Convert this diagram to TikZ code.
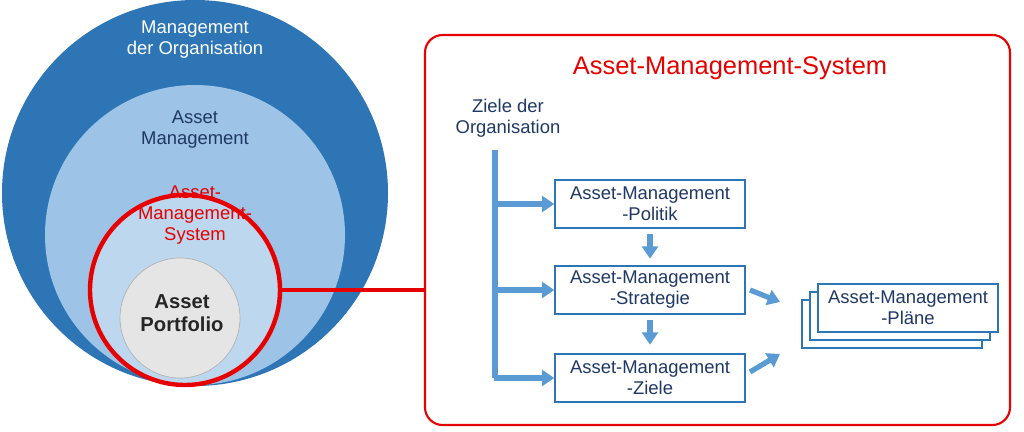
\documentclass[tikz,border=0pt]{standalone}
\usepackage{fontspec}
\setmainfont{Liberation Sans}
\usetikzlibrary{arrows.meta}
\usetikzlibrary{positioning}

\begin{document}
\begin{tikzpicture}[x=0.02cm,y=-0.02cm,font=\fontsize{10.5pt}{12pt}\selectfont,
	flow/.style={draw=arrowblue,line width=3pt,-{Triangle[length=7pt,width=9pt]}},
	main box/.style={draw=boxblue,fill=white,line width=0.8pt,minimum width=190*0.02cm,
		minimum height=48*0.02cm,align=center,text=navy,inner sep=1pt}]
	
	\definecolor{darkblue}{RGB}{46,117,182}
	\definecolor{midblue}{RGB}{157,195,230}
	\definecolor{paleblue}{RGB}{189,215,238}
	\definecolor{navy}{RGB}{31,56,100}
	\definecolor{arrowblue}{RGB}{91,155,213}
	\definecolor{boxblue}{RGB}{46,117,182}
	\definecolor{asmred}{RGB}{230,0,0}
	
	\useasboundingbox (0,0) rectangle (1024,432);
	
	% circles
	\node[circle,fill=darkblue,minimum size=386*0.02cm] (org) at (195,193) {};
	\node[circle,fill=midblue,minimum size=300*0.02cm] (am) at (195,235) {};
	\node[circle,fill=paleblue,draw=asmred,line width=2.5pt,minimum size=190*0.02cm] (ams) at (185,290) {};
	\node[circle,fill=gray!20,draw=gray!60,minimum size=120*0.02cm] (port) at (180,318) {};
	
	\node[text=white,align=center] (orgtext) at (195,40) {Management\\der Organisation};
	\node[text=navy,align=center] (amtext) at (195,130) {Asset\\Management};
	\node[text=asmred,align=center] (amstext) at (195,215) {Asset-\\Management-\\System};
	\node[text=black!85,align=center,font=\fontsize{11.5pt}{13pt}\selectfont\bfseries] (porttext) at (182,313) {Asset\\Portfolio};
	
	% system box
	\node[draw=asmred,line width=1.2pt,rounded corners=10pt,minimum width=585*0.02cm,
		minimum height=390*0.02cm] (sys) at (717.5,230) {};
	\draw[asmred,line width=2pt] (ams.east) -- (sys.west |- ams.east);
	\node[text=asmred,font=\fontsize{14.5pt}{16pt}\selectfont] (title) at (730,68) {Asset-Management-System};
	
	\node[text=navy,align=center] (ziele) at (508,118) {Ziele der\\Organisation};
	\node[main box] (pol) at (650,204) {Asset-Management\\-Politik};
	\node[main box] (str) at (650,290) {Asset-Management\\-Strategie};
	\node[main box] (zie) at (650,378) {Asset-Management\\-Ziele};
	
	% plans stack
	\node[main box,minimum width=180*0.02cm] (plan3) at (892,324) {};
	\node[main box,minimum width=180*0.02cm] (plan2) at (900,316) {};
	\node[main box,minimum width=180*0.02cm] (plan1) at (908,308) {Asset-Management\\-Pläne};
	
	% connectors
	\coordinate (top) at (495,150);
	\draw[draw=arrowblue,line width=3pt] (top) -- (495,378);
	\draw[flow] (495,204) -- (pol.west);
	\draw[flow] (495,290) -- (str.west);
	\draw[flow] (493.5,378) -- (zie.west);
	\draw[flow] (pol.south) ++(0,5) -- ++(0,25);
	\draw[flow] (str.south) ++(0,5) -- ++(0,25);
	\draw[flow] (750,290) -- (780,302);
	\draw[flow] (750,372) -- (780,354);
\end{tikzpicture}
\end{document}
